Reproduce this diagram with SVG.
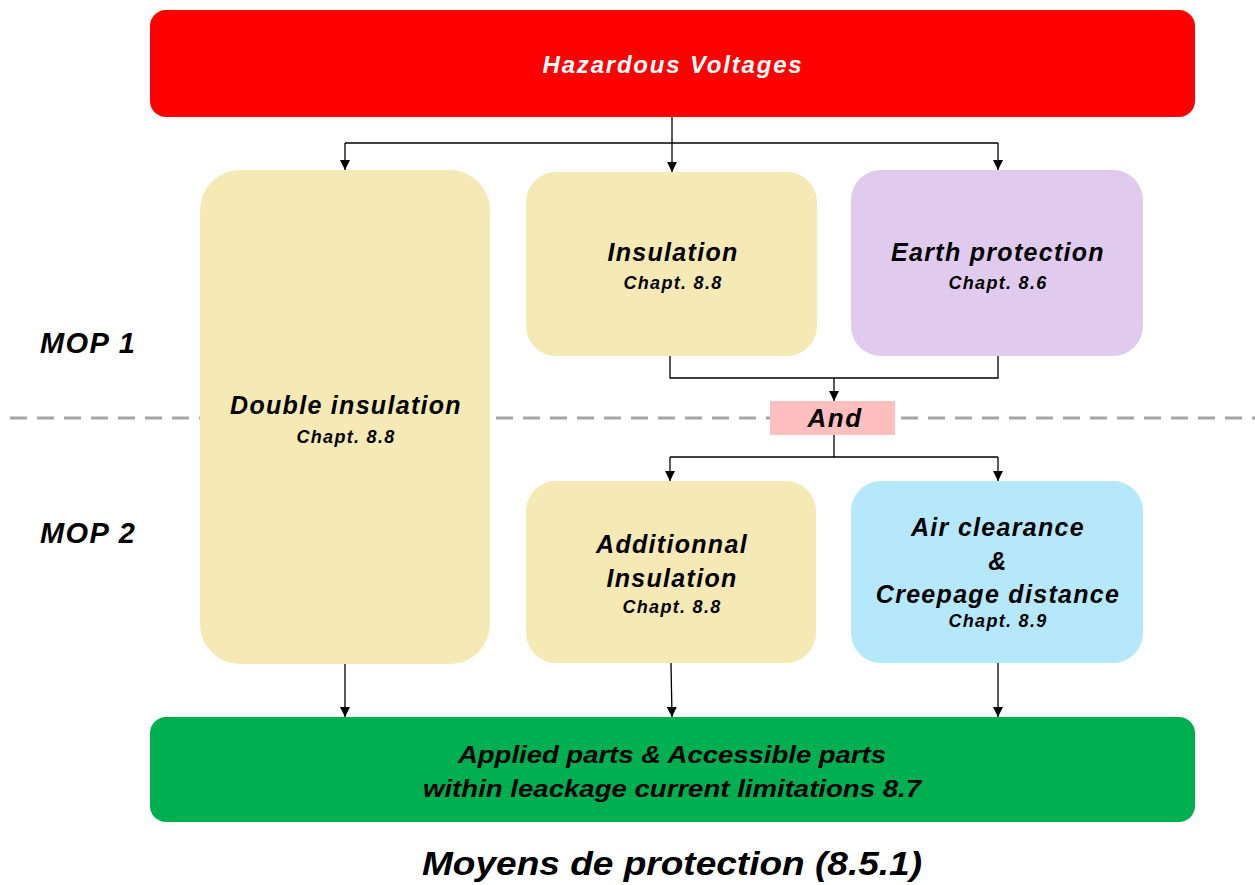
<svg xmlns="http://www.w3.org/2000/svg" width="1255" height="885" viewBox="0 0 1255 885">
  <style>
    text { font-family: "Liberation Sans", Arial, sans-serif; font-weight: bold; font-style: italic; text-anchor: middle; fill: #000; }
    .t { font-size: 25px; letter-spacing: 1.3px; }
    .c { font-size: 18px; letter-spacing: 1.3px; }
    .w { fill: #fff; font-size: 24px; letter-spacing: 1.8px; }
    .mop { font-size: 29px; letter-spacing: 1.4px; text-anchor: start; }
    .and { font-size: 26px; letter-spacing: 1.5px; }
    .g { font-size: 23px; }
    .conn { fill: none; stroke: #000; stroke-width: 1.3; }
  </style>
  <defs>
    <marker id="arr" viewBox="0 0 10 10" refX="10" refY="5" markerWidth="10" markerHeight="10" markerUnits="userSpaceOnUse" orient="auto">
      <path d="M0,0 L10,5 L0,10 z" fill="#000"/>
    </marker>
  </defs>

  <rect width="1255" height="885" fill="#fff"/>

  <!-- separator between MOP 1 and MOP 2 -->
  <line x1="10" y1="418" x2="1255" y2="418" stroke="#A6A6A6" stroke-width="3" stroke-dasharray="17 10"/>

  <g id="mop-labels">
    <text class="mop" x="40" y="353">MOP 1</text>
    <text class="mop" x="40" y="543">MOP 2</text>
  </g>

  <g id="hazardous">
    <rect x="150" y="10" width="1045" height="107" rx="16" fill="#FF0000"/>
    <text class="w" x="673" y="73">Hazardous Voltages</text>
  </g>

  <g id="double-insulation">
    <rect x="200" y="170" width="290" height="494" rx="40" fill="#F5EAB5"/>
    <text class="t" x="346" y="414">Double insulation</text>
    <text class="c" x="346" y="443">Chapt. 8.8</text>
  </g>

  <g id="insulation">
    <rect x="526" y="172" width="291" height="184" rx="30" fill="#F5EAB5"/>
    <text class="t" x="673" y="261">Insulation</text>
    <text class="c" x="673" y="289">Chapt. 8.8</text>
  </g>

  <g id="earth-protection">
    <rect x="851" y="170" width="292" height="186" rx="30" fill="#E0CBEE"/>
    <text class="t" x="998" y="261">Earth protection</text>
    <text class="c" x="998" y="289">Chapt. 8.6</text>
  </g>

  <g id="and">
    <rect x="770" y="401" width="125" height="34" fill="#FFBFBF"/>
    <text class="and" x="835" y="427">And</text>
  </g>

  <g id="additional-insulation">
    <rect x="526" y="481" width="290" height="182" rx="30" fill="#F5EAB5"/>
    <text class="t" x="672" y="553">Additionnal</text>
    <text class="t" x="672" y="587">Insulation</text>
    <text class="c" x="672" y="613">Chapt. 8.8</text>
  </g>

  <g id="air-clearance">
    <rect x="851" y="481" width="292" height="182" rx="30" fill="#B5E8FA"/>
    <text class="t" x="998" y="536">Air clearance</text>
    <text class="t" x="998" y="570">&amp;</text>
    <text class="t" x="998" y="603">Creepage distance</text>
    <text class="c" x="998" y="627">Chapt. 8.9</text>
  </g>

  <g id="accessible-parts">
    <rect x="150" y="717" width="1045" height="105" rx="16" fill="#00B050"/>
    <text class="g" x="672" y="763" textLength="428" lengthAdjust="spacingAndGlyphs">Applied parts &amp; Accessible parts</text>
    <text class="g" x="672" y="797" textLength="498" lengthAdjust="spacingAndGlyphs">within leackage current limitations 8.7</text>
  </g>

  <g id="connectors">
    <path class="conn" d="M672,117 V143"/>
    <path class="conn" d="M345,143 H998"/>
    <path class="conn" d="M345,143 V170" marker-end="url(#arr)"/>
    <path class="conn" d="M672,143 V172" marker-end="url(#arr)"/>
    <path class="conn" d="M998,143 V170" marker-end="url(#arr)"/>
    <path class="conn" d="M670,356 V378 H998 V356"/>
    <path class="conn" d="M834,378 V401" marker-end="url(#arr)"/>
    <path class="conn" d="M834,435 V457"/>
    <path class="conn" d="M670,457 H998"/>
    <path class="conn" d="M670,457 V481" marker-end="url(#arr)"/>
    <path class="conn" d="M998,457 V481" marker-end="url(#arr)"/>
    <path class="conn" d="M345,664 V717" marker-end="url(#arr)"/>
    <path class="conn" d="M671,663 L672,717" marker-end="url(#arr)"/>
    <path class="conn" d="M998,663 V717" marker-end="url(#arr)"/>
  </g>

  <text x="672" y="875" font-size="34" textLength="500" lengthAdjust="spacingAndGlyphs">Moyens de protection (8.5.1)</text>
</svg>
